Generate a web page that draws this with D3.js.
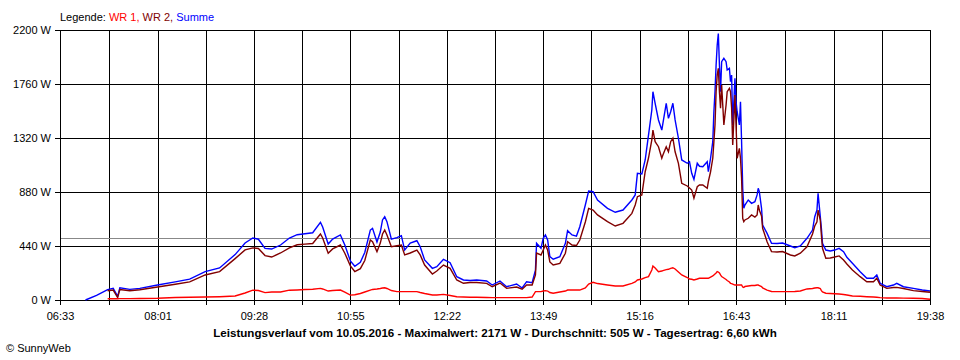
<!DOCTYPE html>
<html><head><meta charset="utf-8">
<script src="https://cdn.jsdelivr.net/npm/d3@7"></script>
<style>
body{margin:0;background:#fff;}
svg text{font-family:"Liberation Sans",Arial,sans-serif;font-size:11px;fill:#000;}
</style>
</head><body>
<svg id="chart" width="960" height="360"></svg>
<script>
// ---- data ----
const times = [
 "06:56","07:06","07:16","07:21","07:25","07:27","07:36","07:45","08:01","08:17",
 "08:30","08:44","08:57","09:11","09:20","09:27","09:32","09:38","09:44","09:52",
 "10:00","10:07","10:14","10:21","10:28","10:30","10:35","10:39","10:46","10:50",
 "10:55","10:59","11:04","11:08","11:13","11:15","11:19","11:22","11:24","11:26",
 "11:28","11:32","11:37","11:41","11:44","11:49","11:55","11:58","12:02","12:09",
 "12:13","12:19","12:25","12:31","12:37","12:43","12:49","12:58","13:03","13:10",
 "13:16","13:25","13:30","13:34","13:39","13:42","13:43","13:47","13:49","13:51",
 "13:53","13:55","13:58","14:04","14:09","14:11","14:15","14:19","14:22","14:27",
 "14:30","14:34","14:38","14:47","14:54","15:01","15:09","15:12","15:14","15:18",
 "15:21","15:24","15:27","15:28","15:30","15:33","15:36","15:37","15:40","15:42",
 "15:44","15:46","15:48","15:51","15:54","15:59","16:01","16:03","16:05","16:08",
 "16:10","16:13","16:17","16:18","16:20","16:22","16:23","16:24","16:25","16:26",
 "16:27","16:28","16:29","16:30","16:32","16:34","16:35","16:37","16:38","16:39",
 "16:40","16:42","16:43","16:44","16:46","16:47","16:48","16:49","16:50","16:51",
 "16:54","16:57","17:00","17:02","17:03","17:04","17:06","17:07","17:11","17:15",
 "17:20","17:25","17:32","17:36","17:41","17:47","17:52","17:54","17:56","17:57",
 "17:59","18:00","18:01","18:04","18:08","18:12","18:16","18:20","18:23","18:28",
 "18:35","18:41","18:47","18:50","18:53","18:59","19:05","19:08","19:14","19:23",
 "19:31","19:38"
];
const summe = [
 0,37,85,95,30,100,87,95,122,148,
 170,231,261,370,465,505,495,420,415,448,
 505,532,540,548,633,595,456,497,530,448,
 318,275,308,387,570,584,473,554,652,679,
 638,495,508,524,407,464,483,434,326,258,
 271,332,304,190,163,159,163,155,122,155,
 108,130,98,149,141,244,462,421,503,530,
 489,353,332,353,462,565,530,521,597,774,
 888,882,815,747,715,733,815,856,1032,1027,
 1141,1344,1548,1697,1603,1467,1385,1440,1603,1480,
 1534,1603,1467,1318,1141,1114,1127,1032,983,1114,
 1090,1086,1127,1045,1155,1290,1534,1697,1915,2078,
 2171,1915,1697,1942,1969,1942,1874,1888,1779,1833,
 1426,1806,1616,1534,1426,1616,1290,910,747,774,
 815,788,801,856,910,883,747,611,543,462,
 460,464,440,426,440,503,570,679,733,869,
 679,584,462,407,399,407,421,394,348,299,
 231,177,177,204,136,108,122,136,108,95,
 81,73
];
const wr2 = [
 null,null,75,81,20,85,76,83,106,128,
 148,204,231,337,408,425,420,362,350,383,
 425,450,455,460,538,505,381,416,448,381,
 278,232,255,322,489,475,394,464,538,570,
 530,434,442,448,367,383,407,367,285,212,
 236,285,258,163,136,143,143,136,108,138,
 95,106,88,122,122,204,383,367,407,448,
 407,310,285,299,381,475,448,444,489,636,
 747,733,693,638,603,625,706,774,842,856,
 1045,1157,1304,1385,1290,1249,1155,1181,1249,1208,
 1290,1318,1208,1114,951,929,913,896,829,923,
 937,937,910,964,1045,1155,1290,1426,1697,1833,
 1888,1697,1562,1752,1426,1589,1697,1725,1697,1562,
 1263,1670,1426,1155,1236,1155,992,666,638,652,
 666,693,676,693,774,733,684,584,475,394,
 391,395,367,359,381,434,538,603,638,733,
 652,530,421,340,342,350,359,326,293,244,
 190,149,149,177,122,95,102,103,94,76,
 69,63
];
const wr1 = [
 null,null,10,11,10,11,11,12,14,20,
 22,24,27,33,57,80,77,60,65,65,
 80,82,85,88,95,90,73,77,81,65,
 40,43,53,65,81,86,90,94,98,100,
 94,77,68,68,68,68,68,61,53,41,
 41,46,37,27,24,22,22,20,19,19,
 19,19,19,19,24,68,68,68,73,76,
 73,61,55,65,73,81,81,81,81,98,
 130,144,134,122,114,114,136,147,163,171,
 183,190,244,277,261,231,236,240,248,250,
 257,263,253,228,204,183,171,169,163,171,
 177,177,177,177,187,196,204,212,220,231,
 228,220,204,191,179,167,159,147,136,134,
 130,122,122,122,122,122,122,106,102,110,
 114,118,118,122,122,118,110,98,81,69,
 68,68,68,69,73,90,94,98,100,100,
 94,77,65,55,53,51,49,45,41,33,
 30,27,24,22,19,16,16,16,15,14,
 12,6
];
const yTickValues = [0,440,880,1320,1760,2200];
const xTickLabels = ["06:33","08:01","09:28","10:55","12:22","13:49","15:16","16:43","18:11","19:38"];
const average = 505;
const seriesNames = ["WR 1","WR 2","Summe"];
const titleText = "Leistungsverlauf vom 10.05.2016 - Maximalwert: 2171 W - Durchschnitt: 505 W - Tagesertrag: 6,60 kWh";
const creditText = "\u00A9 SunnyWeb";

// ---- drawing ----
(function(){
const colors = {"WR 1":"#ff0000","WR 2":"#800000","Summe":"#0000ff"};
const toMin = s => { const [h,m] = s.split(":").map(Number); return h*60+m; };
const pL=60, pR=930, pT=30, pB=300;
const svg = d3.select("#chart");

const x = d3.scaleLinear().domain([toMin(xTickLabels[0]), toMin(xTickLabels[xTickLabels.length-1])]).range([pL,pR]);
const y = d3.scaleLinear().domain([0,2200]).range([pB,pT]);

const labelMins = xTickLabels.map(toMin);
const gridMins = [];
labelMins.forEach((m,i)=>{ gridMins.push(m); if(i<labelMins.length-1) gridMins.push((m+labelMins[i+1])/2); });

const crisp = v => Math.round(v)+0.5;

const g = svg.append("g").attr("shape-rendering","crispEdges");
g.selectAll("line.v").data(gridMins).join("line").attr("class","v")
  .attr("x1",d=>crisp(x(d))).attr("x2",d=>crisp(x(d)))
  .attr("y1",pT).attr("y2",pB+5).attr("stroke","#000");
g.selectAll("line.h").data(yTickValues).join("line").attr("class","h")
  .attr("x1",pL-5).attr("x2",pR+1)
  .attr("y1",d=>crisp(y(d))).attr("y2",d=>crisp(y(d))).attr("stroke","#000");

const yAxis = d3.axisLeft(y).tickValues(yTickValues).tickFormat(d=>d+" W").tickSize(0).tickPadding(9);
const ya = svg.append("g").attr("transform",`translate(${pL},0)`).call(yAxis);
ya.select(".domain").remove();
ya.selectAll("text").style("font-family",'"Liberation Sans",Arial,sans-serif').style("font-size","11px");

const xAxis = d3.axisBottom(x).tickValues(labelMins).tickFormat((d,i)=>xTickLabels[i]).tickSize(0).tickPadding(12);
const xa = svg.append("g").attr("transform",`translate(0,${pB})`).call(xAxis);
xa.select(".domain").remove();
xa.selectAll("text").style("font-family",'"Liberation Sans",Arial,sans-serif').style("font-size","11px");

svg.append("line").attr("shape-rendering","crispEdges")
  .attr("x1",pL+1).attr("x2",pR).attr("y1",crisp(y(average))).attr("y2",crisp(y(average)))
  .attr("stroke","#888888");

const mins = times.map(toMin);
const series = {"WR 1":wr1,"WR 2":wr2,"Summe":summe};
const line = d3.line().defined(d=>d[1]!=null).x(d=>x(d[0])).y(d=>y(d[1]));
["Summe","WR 2","WR 1"].forEach(name=>{
  const pts = mins.map((m,i)=>[m,series[name][i]]);
  svg.append("path").datum(pts).attr("d",line)
    .attr("fill","none").attr("stroke",colors[name]).attr("stroke-width",1.4)
    .attr("stroke-linejoin","miter");
});

const leg = svg.append("text").attr("x",60).attr("y",21);
leg.append("tspan").text("Legende: ");
seriesNames.forEach((n,i)=>{
  leg.append("tspan").style("fill",colors[n]).text(n + (i<seriesNames.length-1?", ":""));
});

svg.append("text").attr("x",495).attr("y",337).attr("text-anchor","middle")
  .style("font-weight","bold").style("font-size","11.6px").text(titleText);
svg.append("text").attr("x",6).attr("y",352).text(creditText);
})();
</script>
</body></html>
